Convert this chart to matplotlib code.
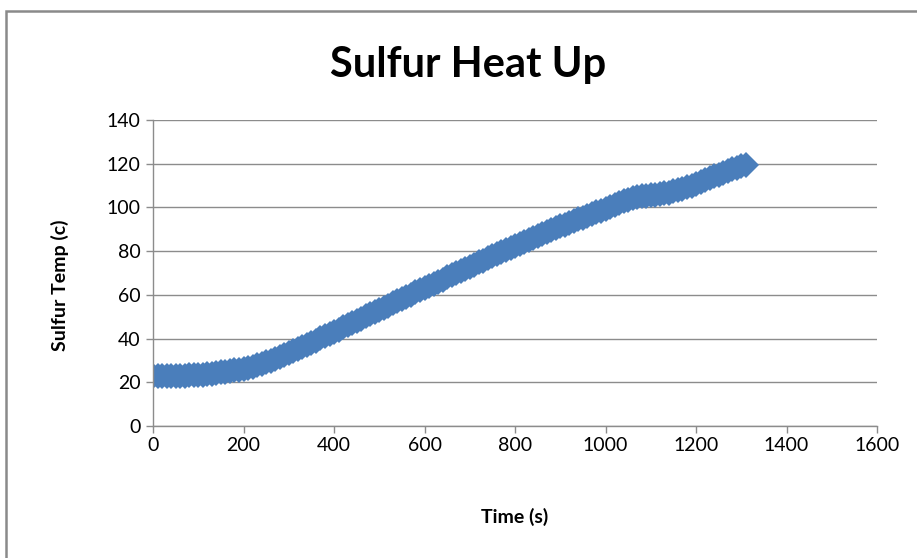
import numpy as np
import matplotlib.pyplot as plt
from matplotlib.patches import Rectangle

# tiempos (s) y temperatura del azufre (c)
time_s = list(range(0, 1320, 10))
temp_c = [23.0, 23.0, 23.0, 23.0, 23.0, 23.0, 23.0, 23.0, 23.1, 23.2,
          23.3, 23.5, 23.7, 23.9, 24.2, 24.5, 24.9, 25.2, 25.5, 25.8,
          26.2, 26.6, 27.0, 27.7, 28.4, 29.1, 29.8, 30.6, 31.4, 32.3,
          33.3, 34.2, 35.1, 36.1, 37.1, 38.1, 39.1, 40.1, 41.1, 42.1,
          43.1, 44.1, 45.1, 46.1, 47.1, 48.1, 49.1, 50.1, 51.1, 52.1,
          53.1, 54.1, 55.1, 56.1, 57.1, 58.1, 59.1, 60.1, 61.1, 62.1,
          63.1, 64.0, 65.0, 66.0, 67.0, 68.0, 69.0, 69.9, 70.9, 71.9,
          72.9, 73.8, 74.8, 75.7, 76.7, 77.6, 78.6, 79.5, 80.5, 81.4,
          82.4, 83.3, 84.2, 85.1, 86.0, 86.9, 87.8, 88.7, 89.6, 90.5,
          91.3, 92.1, 92.9, 93.7, 94.5, 95.3, 96.1, 96.9, 97.7, 98.5,
          99.3, 100.1, 101.0, 101.9, 102.8, 103.6, 104.3, 104.7, 105.0, 105.3,
          105.5, 105.7, 106.0, 106.4, 106.8, 107.3, 107.8, 108.5, 109.2, 110.0,
          110.8, 111.6, 112.5, 113.3, 114.2, 115.0, 115.8, 116.6, 117.4, 118.1,
          118.9, 119.6]

x_ticks = [0, 200, 400, 600, 800, 1000, 1200, 1400, 1600]
y_ticks = [0, 20, 40, 60, 80, 100, 120, 140]

plt.rcParams['font.family'] = ['Lato', 'DejaVu Sans']

fig = plt.figure(figsize=(9.17, 5.58), dpi=100)
ax = fig.add_axes([0.1669, 0.2366, 0.7895, 0.5484])

# marco exterior del grafico (estilo Excel)
fig.patches.append(Rectangle((0.0065, -0.1), 1.1, 1.08, transform=fig.transFigure,
                             fill=False, edgecolor='#8a8a8a', linewidth=1.8))

ax.plot(time_s, temp_c, linestyle='none', marker='D', markersize=13,
        color='#4A7EBB', markeredgewidth=0)

ax.set_xlim(0, 1600)
ax.set_ylim(0, 140)
ax.set_xticks(x_ticks)
ax.set_yticks(y_ticks)
ax.grid(True, axis='y', color='#8c8c8c', linewidth=1)
ax.set_axisbelow(True)

for s in ['top', 'right']:
    ax.spines[s].set_visible(False)
for s in ['left', 'bottom']:
    ax.spines[s].set_color('#8c8c8c')
    ax.spines[s].set_linewidth(1)
ax.tick_params(colors='#8c8c8c', labelcolor='black', labelsize=14, length=5, width=1)
ax.tick_params(axis='x', pad=3)
ax.tick_params(axis='y', pad=4)

fig.text(0.510, 0.8835, "Sulfur Heat Up", fontsize=30, fontweight='bold',
         ha='center', va='center')
ax.set_xlabel("Time (s)", fontsize=14, fontweight='bold')
ax.set_ylabel("Sulfur Temp (c)", fontsize=14, fontweight='bold')
ax.xaxis.set_label_coords(0.5, -0.268)
ax.yaxis.set_label_coords(-0.116, 0.46)

plt.savefig("out.png", dpi=100)
